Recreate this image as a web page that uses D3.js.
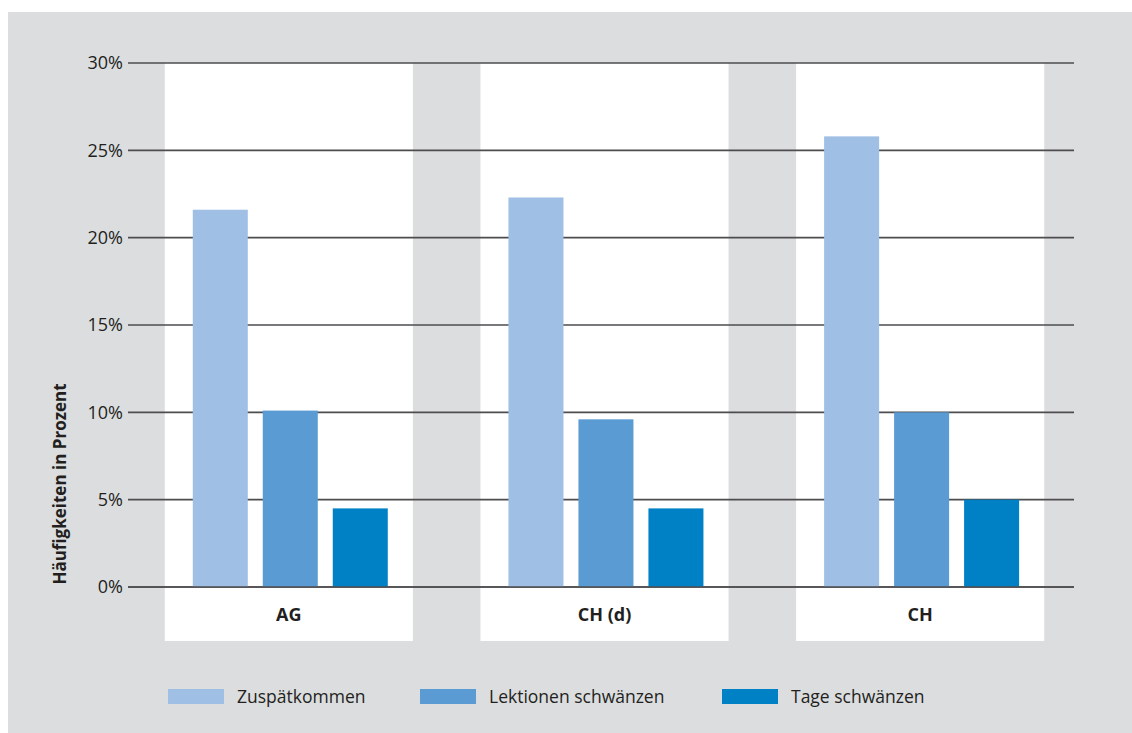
<!DOCTYPE html>
<html lang="de">
<head>
<meta charset="utf-8">
<script src="https://d3js.org/d3.v7.min.js"></script>
<style>
    body {margin: 0; background: #fff;}
    text {font-family: "Open Sans", "DejaVu Sans", sans-serif; fill: #231f20;}
    .grid line {stroke: #4d4d4f; stroke-width: 1.6;}
</style>
</head>
<body>
    <svg width="1132" height="733"></svg>
</body>
<script>
    var categories = ["AG", "CH (d)", "CH"];
    var series = ["Zuspätkommen", "Lektionen schwänzen", "Tage schwänzen"];
    var zuspaet = [21.6, 22.3, 25.8];
    var lektionen = [10.1, 9.6, 10.0];
    var tage = [4.5, 4.5, 5.0];
    var yTicks = [0, 5, 10, 15, 20, 25, 30];
    var colors = ["#a0bfe4", "#5b9bd4", "#0081c6"];

    var values = [zuspaet, lektionen, tage];
    var svg = d3.select("svg");

    // grauer Hintergrund
    svg.append("rect").attr("x", 8).attr("y", 12).attr("width", 1124).attr("height", 721).attr("fill", "#dcdddf");

    var y = d3.scaleLinear().domain([0, 30]).range([587, 63]);
    var x0 = d3.scaleBand().domain(categories).range([131, 1078]).paddingInner(0.214).paddingOuter(0.107);
    var x1 = d3.scaleBand().domain(series).range([28, 223]).paddingInner(0.214);

    // weisse Felder
    svg.append("g").selectAll("rect").data(categories).enter().append("rect")
        .attr("x", function(d){return x0(d);})
        .attr("y", y(30))
        .attr("width", x0.bandwidth())
        .attr("height", 641 - y(30))
        .attr("fill", "#fff");

    // Gitterlinien
    var grid = svg.append("g").attr("class", "grid");
    grid.selectAll("line").data(yTicks).enter().append("line")
        .attr("x1", 128).attr("x2", 1074)
        .attr("y1", function(d){return y(d);})
        .attr("y2", function(d){return y(d);});

    var axis = d3.axisLeft(y).tickValues(yTicks).tickSize(0).tickPadding(0).tickFormat(function(d){return d + "%";});
    var ax = svg.append("g").attr("transform", "translate(123,0)").call(axis);
    ax.select(".domain").remove();
    ax.selectAll("text").attr("font-size", 18).attr("font-family", "Open Sans").attr("fill", "#231f20");

    // Balken
    var groups = svg.append("g").selectAll("g").data(categories).enter().append("g")
        .attr("transform", function(d){return "translate(" + x0(d) + ",0)";});
    groups.selectAll("rect").data(function(d, i){
        return series.map(function(s, j){return {s: s, v: values[j][i], j: j};});
    }).enter().append("rect")
        .attr("x", function(d){return x1(d.s);})
        .attr("y", function(d){return y(d.v);})
        .attr("width", x1.bandwidth())
        .attr("height", function(d){return y(0) - y(d.v);})
        .attr("fill", function(d){return colors[d.j];});

    svg.append("line").attr("class", "zero").attr("x1", 128).attr("x2", 1074)
        .attr("y1", y(0)).attr("y2", y(0)).attr("stroke", "#4d4d4f").attr("stroke-width", 1.6);

    // Kategorien
    svg.append("g").selectAll("text").data(categories).enter().append("text")
        .attr("x", function(d){return x0(d) + x0.bandwidth() / 2;})
        .attr("y", 621)
        .attr("text-anchor", "middle")
        .attr("font-size", 18)
        .attr("font-weight", "bold")
        .text(function(d){return d;});

    // Achsentitel
    svg.append("text")
        .attr("transform", "translate(66,484) rotate(-90)")
        .attr("text-anchor", "middle")
        .attr("font-size", 17)
        .attr("font-weight", "bold")
        .text("Häufigkeiten in Prozent");

    // Legende
    var legendX = [168, 420, 722];
    var legend = svg.append("g").selectAll("g").data(series).enter().append("g")
        .attr("transform", function(d, i){return "translate(" + legendX[i] + ",689)";});
    legend.append("rect").attr("width", 56).attr("height", 15)
        .attr("fill", function(d, i){return colors[i];});
    legend.append("text").attr("x", 69).attr("y", 14).attr("font-size", 17.5)
        .text(function(d){return d;});
</script>
</html>
